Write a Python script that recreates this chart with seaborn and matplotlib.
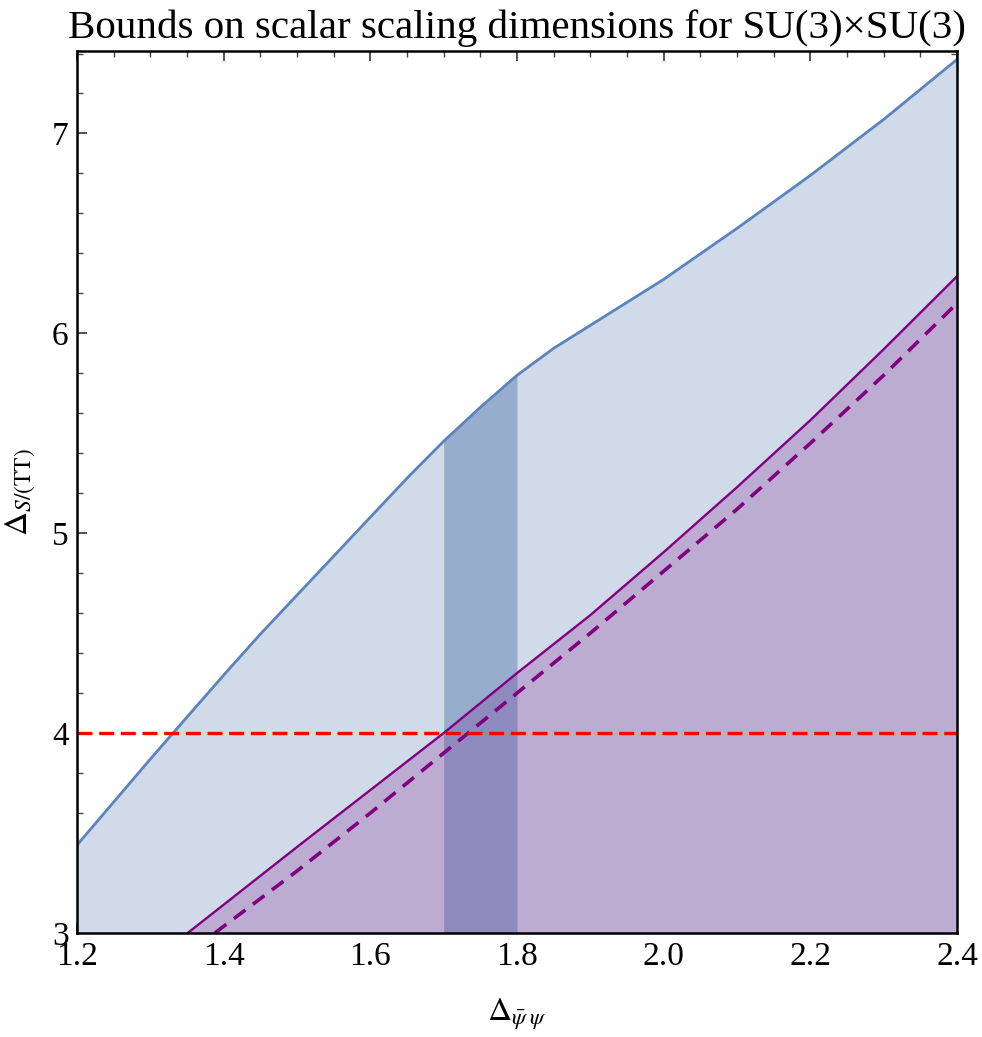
import numpy as np
import pandas as pd
import seaborn as sns
import matplotlib.pyplot as plt
from matplotlib.ticker import MultipleLocator, FormatStrFormatter

# upper bound (blue curve)
x_upper = [1.20, 1.25, 1.30, 1.35, 1.40, 1.45, 1.50, 1.55, 1.60, 1.65, 1.70,
           1.75, 1.80, 1.85, 1.90, 1.95, 2.00, 2.10, 2.20, 2.30, 2.40]
y_upper = [3.44, 3.655, 3.87, 4.08, 4.29, 4.495, 4.69, 4.885, 5.08, 5.275, 5.46,
           5.63, 5.79, 5.925, 6.04, 6.155, 6.27, 6.525, 6.79, 7.07, 7.37]

# lower bound (purple solid)
x_lower = [1.351, 1.50, 1.60, 1.70, 1.80, 1.90, 2.00, 2.10, 2.20, 2.30, 2.40]
y_lower = [3.00, 3.43, 3.715, 4.00, 4.30, 4.59, 4.905, 5.23, 5.565, 5.92, 6.285]

# purple dashed
x_dash = [1.388, 1.50, 1.60, 1.70, 1.80, 1.90, 2.00, 2.10, 2.20, 2.30, 2.40]
y_dash = [3.00, 3.31, 3.60, 3.90, 4.20, 4.50, 4.81, 5.12, 5.45, 5.79, 6.15]

# marginality line and band
y_marginal = 4.0
band = [1.7, 1.8]

XMIN, XMAX = 1.2, 2.4
YMIN, YMAX = 3.0, 7.415

sns.set_theme(style="ticks")
plt.rcParams['font.family'] = ['Liberation Serif', 'DejaVu Serif']
plt.rcParams['mathtext.fontset'] = 'stix'
plt.rcParams['text.color'] = 'black'
plt.rcParams['axes.labelcolor'] = 'black'

fig = plt.figure(figsize=(9.82, 10.37), dpi=100)
ax = fig.add_axes([0.0784, 0.1003, 0.8961, 0.851])

xu = np.array(x_upper)
yu = np.array(y_upper)
xl = np.array([XMIN] + x_lower)
yl = np.array([YMIN] + y_lower)

# fills
ax.fill_between(xu, YMIN, yu, color='#D0DAE8', lw=0, zorder=1)
ax.fill_between(xl, YMIN, yl, color='#BDACD2', lw=0, zorder=2)

# band: part above purple line, part below
m = (xu >= band[0] - 1e-9) & (xu <= band[1] + 1e-9)
xb = xu[m]
yb_top = yu[m]
yb_mid = np.interp(xb, xl, yl)
ax.fill_between(xb, yb_mid, yb_top, color='#97ADCE', lw=0, zorder=3)
ax.fill_between(xb, YMIN, yb_mid, color='#8F8ABD', lw=0, zorder=3)

df_u = pd.DataFrame({'x': x_upper, 'y': y_upper})
df_l = pd.DataFrame({'x': x_lower, 'y': y_lower})
df_d = pd.DataFrame({'x': x_dash, 'y': y_dash})

sns.lineplot(data=df_u, x='x', y='y', ax=ax, color='#5B83BE', lw=2.0,
             estimator=None, sort=False, zorder=5)
sns.lineplot(data=df_l, x='x', y='y', ax=ax, color='#800080', lw=1.7,
             estimator=None, sort=False, zorder=5)
sns.lineplot(data=df_d, x='x', y='y', ax=ax, color='#800080', lw=2.6,
             estimator=None, sort=False, zorder=5, dashes=False)
ax.lines[-1].set_dashes([4.0, 2.6])
ax.lines[-1].set_dash_capstyle('butt')

ax.axhline(y_marginal, color='#FF0000', lw=2.4, dashes=(4.5, 2.0), zorder=6)

ax.set_xlim(XMIN, XMAX)
ax.set_ylim(YMIN, YMAX)

ax.xaxis.set_major_locator(MultipleLocator(0.2))
ax.xaxis.set_minor_locator(MultipleLocator(0.05))
ax.xaxis.set_major_formatter(FormatStrFormatter('%.1f'))
ax.yaxis.set_major_locator(MultipleLocator(1))
ax.yaxis.set_minor_locator(MultipleLocator(0.2))

ax.tick_params(which='both', direction='in', top=True, right=True,
               labelsize=24, colors='#444444', labelcolor='black')
ax.tick_params(which='major', length=7, width=1.3, pad=6)
ax.tick_params(which='minor', length=4, width=1.0)

for s in ax.spines.values():
    s.set_linewidth(1.8)
    s.set_color('black')
    s.set_zorder(10)

ax.set_xlabel(r'$\Delta_{\bar{\psi}\;\psi}$', fontsize=24, labelpad=18)
ax.set_ylabel(r'$\Delta_{S/(\mathrm{TT})}$', fontsize=24, labelpad=10)
ax.set_title(u'Bounds on scalar scaling dimensions for SU(3)\u00d7SU(3)',
             fontsize=29.5, pad=9, color='black')

fig.savefig('out.png', dpi=100)
